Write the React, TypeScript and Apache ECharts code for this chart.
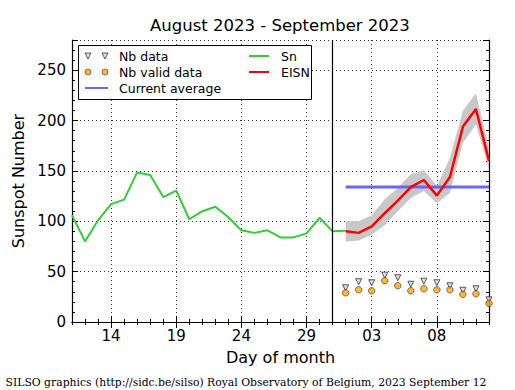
import React, { useEffect, useRef } from "react";
import * as echarts from "echarts";

const days = [
  "11", "12", "13", "14", "15", "16", "17", "18", "19", "20", "21", "22", "23", "24", "25", "26",
  "27", "28", "29", "30", "31", "01", "02", "03", "04", "05", "06", "07", "08", "09", "10", "11b", "12b",
];
const majorDays = ["14", "19", "24", "29", "03", "08"];

// Sn, Aug 11 .. Sep 1
const snValues = [106, 80, 101, 117, 121.5, 148.5, 146, 124, 130.5, 102, 110, 114.5, 104, 91, 88.5, 91, 84, 84, 88, 103.5, 90, 90.5];
const snStart = 0;
// EISN, Sep 1 .. Sep 12
const eisnValues = [90, 88.5, 95, 108, 120.5, 134, 141, 125.5, 144, 194, 211.5, 160];
const eisnUpper = [100, 100, 106, 122, 133, 147, 151, 135, 163, 210, 227, 173];
const eisnLower = [80, 81, 87, 96, 110, 123, 130, 118, 128, 178, 196, 152];
const eisnStart = 21;
const nbData = [34, 40, 39, 46.5, 44, 37.5, 40.5, 39, 36, 31.5, 33, 22];
const nbValid = [29, 32, 31, 41, 36, 31, 33, 32, 32, 27.5, 28, 18.5];
const currentAverage = 134;
const verticalLineDay = "31";

const pad = (start: number, vals: (number | null)[]) =>
  days.map((_, i) => (i >= start && i - start < vals.length ? vals[i - start] : null));

const isMajor = (i: number) => majorDays.includes(days[i]);

const twoTri = "path://M0,0 L6,0 L3,6 Z M17,0 L23,0 L20,6 Z";
const twoCirc =
  "path://M0,3 A3,3 0 1,1 6,3 A3,3 0 1,1 0,3 Z M17,3 A3,3 0 1,1 23,3 A3,3 0 1,1 17,3 Z";

const FONT = "DejaVu Sans";
const TRI_STYLE = { color: "#d8d8d8", borderColor: "#333", borderWidth: 1 };
const CIRC_STYLE = { color: "#ffa500", borderColor: "#333", borderWidth: 0.8 };

export default function App() {
  const ref = useRef<HTMLDivElement>(null);
  useEffect(() => {
    if (!ref.current) return;
    const chart = echarts.init(ref.current, null, { renderer: "svg" });
    const dotted = { color: "#000", width: 0.8, type: [1, 3] as number[] };
    const baseX = {
      type: "category" as const,
      data: days,
      boundaryGap: false,
      gridIndex: 0,
    };
    const noSym = { opacity: 0 };
    const option: any = {
      animation: false,
      textStyle: { fontFamily: FONT },
      title: {
        text: "August 2023 - September 2023",
        left: 150,
        top: 17,
        padding: 0,
        textStyle: { fontFamily: FONT, fontSize: 16.5, fontWeight: "normal", color: "#000" },
      },
      grid: { left: 72, right: 26, top: 40, bottom: 68 },
      legend: [
        {
          orient: "vertical",
          left: 84,
          top: 49,
          padding: 0,
          itemGap: 2,
          itemWidth: 23,
          itemHeight: 6,
          textStyle: { fontFamily: FONT, fontSize: 12.5, color: "#000", padding: [0, 0, 0, 6], lineHeight: 14 },
          selectedMode: false,
          data: [
            { name: "Nb data", icon: twoTri, itemStyle: TRI_STYLE },
            { name: "Nb valid data", icon: twoCirc, itemStyle: CIRC_STYLE },
            { name: "Current average", itemStyle: noSym },
          ],
        },
        {
          orient: "vertical",
          left: 248,
          top: 49,
          padding: 0,
          itemGap: 2,
          itemWidth: 20,
          itemHeight: 6,
          textStyle: { fontFamily: FONT, fontSize: 12.5, color: "#000", padding: [0, 0, 0, 7], lineHeight: 14 },
          selectedMode: false,
          data: [
            { name: "Sn", itemStyle: noSym },
            { name: "EISN", itemStyle: noSym },
          ],
        },
      ],
      xAxis: [
        {
          ...baseX,
          position: "bottom",
          name: "Day of month",
          nameLocation: "middle",
          nameGap: 27,
          nameTextStyle: { fontFamily: FONT, fontSize: 16, color: "#000" },
          axisLine: { show: true, lineStyle: { color: "#000", width: 1.2 } },
          axisTick: { show: true, inside: true, length: 3, interval: 0, lineStyle: { color: "#000" } },
          axisLabel: {
            interval: (i: number) => isMajor(i),
            formatter: (v: string) => v.replace("b", ""),
            fontFamily: FONT,
            fontSize: 15,
            color: "#000",
            margin: 6,
          },
          splitLine: { show: true, interval: (i: number) => isMajor(i), lineStyle: dotted },
        },
        {
          ...baseX,
          position: "bottom",
          axisLine: { show: false },
          axisTick: { show: true, inside: true, length: 6, interval: (i: number) => isMajor(i), lineStyle: { color: "#000" } },
          axisLabel: { show: false },
          splitLine: { show: false },
        },
        {
          ...baseX,
          position: "top",
          axisLine: { show: true, lineStyle: { color: "#000", width: 1.2 } },
          axisTick: { show: true, inside: true, length: 3, interval: 0, lineStyle: { color: "#000" } },
          axisLabel: { show: false },
          splitLine: { show: false },
        },
        {
          ...baseX,
          position: "top",
          axisLine: { show: false },
          axisTick: { show: true, inside: true, length: 6, interval: (i: number) => isMajor(i), lineStyle: { color: "#000" } },
          axisLabel: { show: false },
          splitLine: { show: false },
        },
      ],
      yAxis: [
        {
          type: "value",
          position: "left",
          min: 0,
          max: 280,
          interval: 50,
          name: "Sunspot Number",
          nameLocation: "middle",
          nameGap: 42,
          nameTextStyle: { fontFamily: FONT, fontSize: 16, color: "#000" },
          axisLine: { show: true, lineStyle: { color: "#000", width: 1.2 } },
          axisTick: { show: true, inside: true, length: 6, lineStyle: { color: "#000" } },
          axisLabel: {
            formatter: (v: number) => (v % 50 === 0 ? String(v) : ""),
            fontFamily: FONT,
            fontSize: 15,
            color: "#000",
            margin: 6,
          },
          splitLine: { show: true, lineStyle: dotted },
        },
        {
          type: "value",
          position: "left",
          min: 0,
          max: 280,
          interval: 10,
          axisLine: { show: false },
          axisTick: { show: true, inside: true, length: 3, lineStyle: { color: "#000" } },
          axisLabel: { show: false },
          splitLine: { show: false },
        },
        {
          type: "value",
          position: "right",
          min: 0,
          max: 280,
          interval: 50,
          axisLine: { show: true, lineStyle: { color: "#000", width: 1.2 } },
          axisTick: { show: true, inside: true, length: 6, lineStyle: { color: "#000" } },
          axisLabel: { show: false },
          splitLine: { show: false },
        },
        {
          type: "value",
          position: "right",
          min: 0,
          max: 280,
          interval: 10,
          axisLine: { show: false },
          axisTick: { show: true, inside: true, length: 3, lineStyle: { color: "#000" } },
          axisLabel: { show: false },
          splitLine: { show: false },
        },
      ],
      graphic: [
        {
          type: "rect",
          z: 3,
          shape: { x: 78.5, y: 45.5, width: 233, height: 54 },
          style: { fill: "#fff", stroke: "#000", lineWidth: 1 },
        },
        {
          type: "text",
          x: 246,
          y: 382,
          style: {
            text: "SILSO graphics (http://sidc.be/silso) Royal Observatory of Belgium, 2023 September 12",
            fontFamily: "DejaVu Serif",
            fontSize: 10.8,
            fill: "#000",
            textAlign: "center",
            textVerticalAlign: "middle",
          },
        },
      ],
      series: [
        {
          name: "bandLower",
          type: "line",
          stack: "band",
          data: pad(eisnStart, eisnLower),
          symbol: "none",
          lineStyle: { opacity: 0 },
          silent: true,
          z: 1,
        },
        {
          name: "bandRange",
          type: "line",
          stack: "band",
          data: pad(
            eisnStart,
            eisnUpper.map((u, i) => u - eisnLower[i])
          ),
          symbol: "none",
          lineStyle: { opacity: 0 },
          areaStyle: { color: "#c8c8c8", opacity: 1 },
          silent: true,
          z: 1,
        },
        {
          name: "Sn",
          type: "line",
          data: pad(snStart, snValues),
          symbol: "none",
          lineStyle: { color: "#33cc33", width: 2 },
          itemStyle: { color: "#33cc33" },
          z: 2,
          markLine: {
            silent: true,
            symbol: "none",
            label: { show: false },
            lineStyle: { color: "#000", width: 1.2, type: "solid" },
            data: [{ xAxis: verticalLineDay }],
          },
        },
        {
          name: "Current average",
          type: "line",
          data: pad(eisnStart, eisnValues.map(() => currentAverage)),
          symbol: "none",
          lineStyle: { color: "#6666ff", width: 3 },
          itemStyle: { color: "#6666ff" },
          z: 3,
        },
        {
          name: "EISN",
          type: "line",
          data: pad(eisnStart, eisnValues),
          symbol: "none",
          lineStyle: { color: "#ff0000", width: 2.5 },
          itemStyle: { color: "#ff0000" },
          z: 4,
        },
        {
          name: "Nb data",
          type: "scatter",
          data: pad(eisnStart, nbData),
          symbol: "triangle",
          symbolRotate: 180,
          symbolSize: 6,
          itemStyle: TRI_STYLE,
          z: 5,
        },
        {
          name: "Nb valid data",
          type: "scatter",
          data: pad(eisnStart, nbValid),
          symbol: "circle",
          symbolSize: 6.5,
          itemStyle: CIRC_STYLE,
          z: 6,
        },
      ],
    };
    chart.setOption(option);
    return () => chart.dispose();
  }, []);
  return (
    <div
      ref={ref}
      style={{ position: "fixed", left: 0, top: 0, width: 515, height: 390, background: "#fff" }}
    />
  );
}
